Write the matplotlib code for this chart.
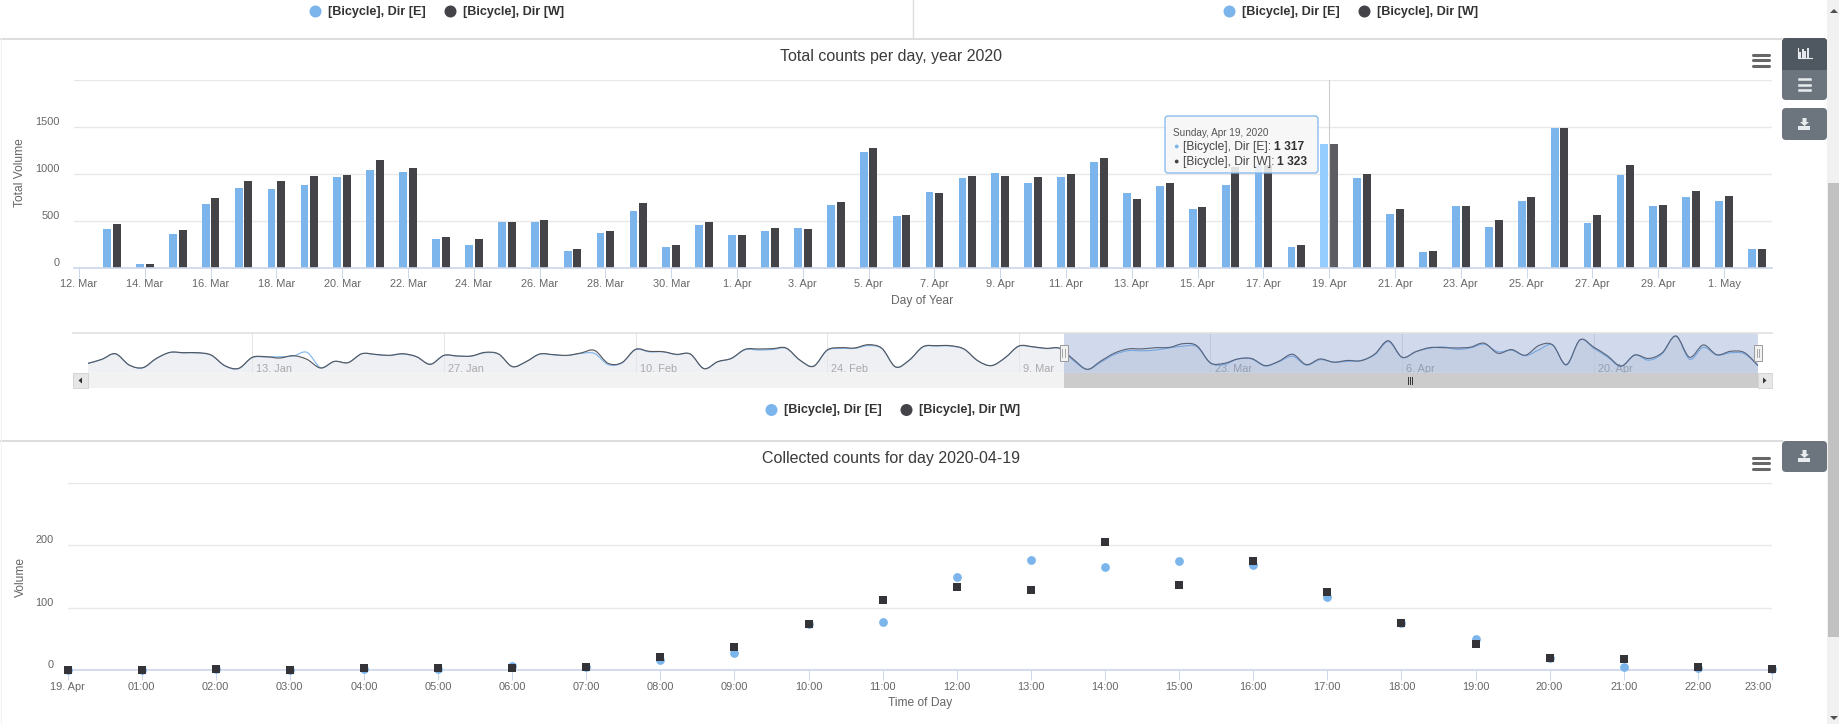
import numpy as np
import matplotlib
matplotlib.use('Agg')
import matplotlib.pyplot as plt
from matplotlib.path import Path
from matplotlib.patches import PathPatch, Rectangle, FancyBboxPatch, Circle, Polygon

plt.rcParams['font.family'] = ['Liberation Sans', 'DejaVu Sans']

# daily totals, 13 Mar - 2 May
days = list(range(1, 52))
east = [418, 39, 357, 686, 854, 846, 879, 971, 1046, 1025, 311, 250, 493, 493, 186, 375, 611,
        225, 461, 354, 389, 429, 675, 1239, 557, 814, 954, 1014, 907, 971, 1132, 804, 868, 632,
        889, 1100, 225, 1317, 954, 579, 175, 664, 439, 718, 1486, 482, 993, 664, 761, 718, 207]
west = [471, 46, 407, 750, 929, 929, 982, 993, 1154, 1068, 325, 304, 493, 514, 207, 396, 696,
        250, 493, 354, 429, 418, 704, 1282, 568, 804, 982, 982, 971, 1004, 1175, 739, 900, 654,
        1079, 1100, 250, 1323, 1004, 632, 186, 664, 514, 761, 1486, 568, 1100, 675, 825, 771, 207]
day_ticks = list(range(0, 51, 2))
day_labels = ['12. Mar', '14. Mar', '16. Mar', '18. Mar', '20. Mar', '22. Mar', '24. Mar', '26. Mar',
              '28. Mar', '30. Mar', '1. Apr', '3. Apr', '5. Apr', '7. Apr', '9. Apr', '11. Apr',
              '13. Apr', '15. Apr', '17. Apr', '19. Apr', '21. Apr', '23. Apr', '25. Apr', '27. Apr',
              '29. Apr', '1. May']

# navigator, 1 Jan - 12 Mar (the rest comes from east/west above)
nav_west = [304, 475, 720, 232, 117, 519, 780, 765, 765, 664, 203, 88, 563, 592, 534, 635, 476, 102,
            390, 333, 720, 693, 650, 720, 592, 260, 650, 621, 621, 780, 708, 160, 376, 708, 680, 650,
            750, 865, 304, 333, 910, 823, 808, 693, 708, 73, 376, 520, 910, 924, 938, 967, 448, 174,
            880, 981, 967, 1110, 952, 145, 445, 1024, 1067, 1067, 924, 419, 203, 549, 1053, 1024,
            952, 952]
nav_east = [300, 470, 715, 240, 105, 510, 775, 750, 750, 650, 190, 70, 550, 575, 590, 620, 780, 115,
            385, 340, 715, 680, 640, 705, 585, 270, 640, 615, 615, 760, 700, 170, 370, 700, 670, 640,
            730, 730, 250, 320, 890, 800, 800, 680, 700, 85, 370, 510, 890, 880, 900, 950, 440, 185,
            860, 950, 950, 1070, 940, 150, 440, 1010, 1050, 1050, 910, 410, 210, 540, 1040, 1010,
            940, 940]
nav_ticks = [12, 26, 40, 54, 68, 82, 96, 110]
nav_labels = ['13. Jan', '27. Jan', '10. Feb', '24. Feb', '9. Mar', '23. Mar', '6. Apr', '20. Apr']

# counts per hour for 2020-04-19
hours = list(range(24))
hour_east = [1, 1, 2, 1, 2, 2, 7, 6, 16, 28, 74, 78, 149, 177, 166, 175, 169, 117, 76, 50, 20, 5, 3, 2]
hour_west = [1, 1, 2, 1, 3, 3, 3, 6, 21, 37, 74, 113, 133, 129, 206, 136, 175, 125, 75, 42, 19, 18, 5, 2]
hour_labels = ['19. Apr', '01:00', '02:00', '03:00', '04:00', '05:00', '06:00', '07:00', '08:00', '09:00',
               '10:00', '11:00', '12:00', '13:00', '14:00', '15:00', '16:00', '17:00', '18:00', '19:00',
               '20:00', '21:00', '22:00', '23:00']

BLUE = '#7cb5ec'
DARK = '#434348'
W, H = 1839, 724
PT = 0.72  # px to pt at dpi 100

fig = plt.figure(figsize=(W / 100, H / 100), dpi=100, facecolor='white')


def px_axes(x0, y0, x1, y1, **kw):
    return fig.add_axes([x0 / W, 1 - y1 / H, (x1 - x0) / W, (y1 - y0) / H], **kw)


def style_axes(ax):
    for s in ['top', 'left', 'right']:
        ax.spines[s].set_visible(False)
    ax.spines['bottom'].set_color('#ccd6eb')
    ax.spines['bottom'].set_linewidth(1.2)
    ax.set_axisbelow(True)
    ax.grid(axis='y', color='#e8e8e8', linewidth=1.0)
    ax.tick_params(axis='x', length=10 * PT, width=0.7, color='#ccd6eb', labelsize=11 * PT,
                   labelcolor='#666666', pad=1)
    ax.tick_params(axis='y', length=0, labelsize=11 * PT, labelcolor='#666666', pad=14 * PT)
    for t in ax.get_yticklabels():
        t.set_va('bottom')


# ---- total counts per day
ax = px_axes(74, 80.2, 1772, 268)
ax.set_xlim((74 - 79) / 32.9, (1772 - 79) / 32.9)
ax.set_ylim(0, 2000)
ax.set_yticks([0, 500, 1000, 1500, 2000])
ax.set_yticklabels(['0', '500', '1000', '1500', ''])
ax.set_xticks(day_ticks)
ax.set_xticklabels(day_labels)
style_axes(ax)

col_e = [BLUE] * len(days)
col_w = [DARK] * len(days)
col_e[37] = '#95cefe'   # hovered day, 19 Apr
col_w[37] = '#5c5c61'
ax.bar(np.array(days) - 0.147, east, width=0.235, color=col_e)
ax.bar(np.array(days) + 0.147, west, width=0.245, color=col_w)
ax.axvline(38, color='#cccccc', linewidth=0.8, zorder=1)

# ---- navigator
nav = px_axes(88, 333, 1758, 372.7)
nav.set_xlim(0, 122)
nav.set_ylim(-101, 1616)
nav.axis('off')


def spline_path(xs, ys, close_at=None):
    # smooth line through the daily points
    xs = np.asarray(xs, float)
    ys = np.asarray(ys, float)
    verts = [(xs[0], ys[0])]
    codes = [Path.MOVETO]
    n = len(xs)
    for i in range(n - 1):
        a = max(i - 1, 0)
        b = min(i + 2, n - 1)
        verts.append((xs[i] + (xs[i + 1] - xs[a]) / 6, ys[i] + (ys[i + 1] - ys[a]) / 6))
        verts.append((xs[i + 1] - (xs[b] - xs[i]) / 6, ys[i + 1] - (ys[b] - ys[i]) / 6))
        verts.append((xs[i + 1], ys[i + 1]))
        codes += [Path.CURVE4] * 3
    if close_at is not None:
        verts += [(xs[-1], close_at), (xs[0], close_at), (xs[0], ys[0])]
        codes += [Path.LINETO, Path.LINETO, Path.CLOSEPOLY]
    return Path(verts, codes)


nav_x = list(range(123))
full_east = nav_east + east
full_west = nav_west + west
nav.add_patch(PathPatch(spline_path(nav_x, full_west, -101), facecolor='#eff0f4', edgecolor='none', zorder=1))
for t, lab in zip(nav_ticks, nav_labels):
    nav.axvline(t, color='#e6e6e6', linewidth=0.7, zorder=2)
    nav.text(t + 0.3, 80, lab, color='#aaaaaa', fontsize=11 * PT, va='center', ha='left', zorder=2)
nav.add_patch(PathPatch(spline_path(nav_x, full_east), facecolor='none', edgecolor=BLUE, linewidth=0.8, zorder=3))
nav.add_patch(PathPatch(spline_path(nav_x, full_west), facecolor='none', edgecolor='#55555a', linewidth=0.8, zorder=4))
nav.axvspan(71.3, 122, color='#6685c2', alpha=0.3, linewidth=0, zorder=5)

# ---- counts for the day
ax2 = px_axes(67.5, 483, 1772, 670.3)
ax2.set_xlim(0, 23)
ax2.set_ylim(0, 300)
ax2.set_yticks([0, 100, 200, 300])
ax2.set_yticklabels(['0', '100', '200', ''])
ax2.set_xticks(hours)
ax2.set_xticklabels(hour_labels)
style_axes(ax2)
ax2.get_xticklabels()[-1].set_ha('right')
ax2.scatter(hours, hour_east, s=40, marker='o', color=BLUE, clip_on=False, zorder=3, linewidths=0)
ax2.scatter(hours, hour_west, s=38, marker='s', color='#333338', clip_on=False, zorder=4, linewidths=0)

# ---- everything around the charts, in page pixels
ov = fig.add_axes([0, 0, 1, 1], facecolor='none')
ov.set_xlim(0, W)
ov.set_ylim(H, 0)
ov.axis('off')

ov.plot([0, 1782], [38.5, 38.5], color='#dddddd', linewidth=1.4)
ov.plot([0, 1782], [441, 441], color='#dddddd', linewidth=1.4)
ov.plot([913.5, 913.5], [0, 38], color='#dddddd', linewidth=1)
ov.plot([0.5, 0.5], [38, 724], color='#f2f2f2', linewidth=0.8)


def legend_entry(x, y, color, label):
    ov.add_patch(Circle((x, y), 6, color=color, linewidth=0))
    ov.text(x + 13, y + 0.5, label, fontsize=12.6 * PT, fontweight='bold', color='#333333', va='center')


legend_entry(315.5, 11.5, BLUE, '[Bicycle], Dir [E]')
legend_entry(450.5, 11.5, DARK, '[Bicycle], Dir [W]')
legend_entry(1229.5, 11.5, BLUE, '[Bicycle], Dir [E]')
legend_entry(1364.5, 11.5, DARK, '[Bicycle], Dir [W]')
legend_entry(771.5, 410, BLUE, '[Bicycle], Dir [E]')
legend_entry(906.5, 410, DARK, '[Bicycle], Dir [W]')

ov.text(891.5, 56.5, 'Total counts per day, year 2020', fontsize=16 * PT, color='#3a3a3a', ha='center', va='center')
ov.text(891.5, 458, 'Collected counts for day 2020-04-19', fontsize=16 * PT, color='#3a3a3a', ha='center', va='center')
ov.text(922, 301, 'Day of Year', fontsize=12 * PT, color='#666666', ha='center', va='center')
ov.text(920, 703, 'Time of Day', fontsize=12 * PT, color='#666666', ha='center', va='center')
ov.text(20.5, 173, 'Total Volume', fontsize=12 * PT, color='#666666', ha='center', va='center', rotation=90)
ov.text(20.5, 577, 'Volume', fontsize=12 * PT, color='#666666', ha='center', va='center', rotation=90)

# hamburger menus
for cy in [60, 463]:
    for dy in [-5.5, 0, 5.5]:
        ov.plot([1753, 1769], [cy + dy, cy + dy], color='#666666', linewidth=2.2, solid_capstyle='round')

# navigator frame and scrollbar
ov.plot([73, 1772], [333, 333], color='#e0e0e0', linewidth=1.2)
ov.add_patch(Rectangle((73, 373), 1699, 15, color='#f2f2f2', linewidth=0))
ov.add_patch(Rectangle((1063.6, 373), 694.4, 15, color='#cccccc', linewidth=0))
ov.add_patch(Rectangle((73, 373), 15, 15, facecolor='#e6e6e6', edgecolor='#cccccc', linewidth=0.5))
ov.add_patch(Rectangle((1758, 373), 14, 15, facecolor='#e6e6e6', edgecolor='#cccccc', linewidth=0.5))
ov.add_patch(Polygon([[82, 377.5], [82, 383.5], [78.5, 380.5]], color='#333333', linewidth=0))
ov.add_patch(Polygon([[1763, 377.5], [1763, 383.5], [1766.5, 380.5]], color='#333333', linewidth=0))
for dx in [-2, 0, 2]:
    ov.plot([1410 + dx, 1410 + dx], [377, 384], color='#333333', linewidth=0.7)
for hx in [1063.6, 1758]:
    ov.add_patch(Rectangle((hx - 4, 345), 8, 15.5, facecolor='#f2f2f2', edgecolor='#999999', linewidth=0.7, zorder=6))
    for dx in [-1.2, 1.2]:
        ov.plot([hx + dx, hx + dx], [349, 357], color='#999999', linewidth=0.6, zorder=7)

# tooltip
ov.add_patch(FancyBboxPatch((1167, 118), 149, 53, boxstyle='round,pad=2,rounding_size=3', facecolor='#f7f7f7',
                            edgecolor=BLUE, linewidth=1, alpha=0.88, zorder=8))
ov.text(1172.7, 132.5, 'Sunday, Apr 19, 2020', fontsize=10 * PT, color='#555555', va='center', zorder=9)
ov.add_patch(Circle((1176.7, 146.5), 1.9, color=BLUE, linewidth=0, zorder=9))
ov.add_patch(Circle((1176.7, 161.5), 1.9, color=DARK, linewidth=0, zorder=9))
ov.text(1183, 147, '[Bicycle], Dir [E]:', fontsize=12 * PT, color='#444444', va='center', zorder=9)
ov.text(1183, 162, '[Bicycle], Dir [W]:', fontsize=12 * PT, color='#444444', va='center', zorder=9)
ov.text(1274, 147, '1 317', fontsize=12 * PT, fontweight='bold', color='#333333', va='center', zorder=9)
ov.text(1277.5, 162, '1 323', fontsize=12 * PT, fontweight='bold', color='#333333', va='center', zorder=9)

# side buttons
def button(y0, y1, color):
    ov.add_patch(FancyBboxPatch((1784, y0 + 2), 41, y1 - y0 - 4, boxstyle='round,pad=2,rounding_size=4',
                                facecolor=color, edgecolor='none'))


button(38, 100, '#6c757d')
button(38, 70, '#4f5760')
ov.add_patch(Rectangle((1782, 60), 45, 10, color='#4f5760', linewidth=0))
button(108, 140, '#6c757d')
button(441, 472, '#6c757d')

ICON = '#e9ecef'
ov.plot([1798, 1798, 1812], [48, 58, 58], color=ICON, linewidth=0.8)
for bx, top in zip([1800.5, 1803, 1805.5, 1808], [53, 50, 52, 49]):
    ov.plot([bx, bx], [57, top], color=ICON, linewidth=1.4)
for dy in [79, 84.5, 90]:
    ov.plot([1799, 1810], [dy, dy], color=ICON, linewidth=1.8)
for cy in [124, 456]:
    ov.add_patch(Polygon([[1802.5, cy - 6], [1806.5, cy - 6], [1806.5, cy - 2], [1809, cy - 2], [1804.5, cy + 2],
                          [1800, cy - 2], [1802.5, cy - 2]], color=ICON, linewidth=0))
    ov.add_patch(Rectangle((1798.5, cy + 1.5), 12, 4.5, color=ICON, linewidth=0))

# page scrollbar
ov.add_patch(Rectangle((1827, 0), 12, H, color='#f1f1f1', linewidth=0))
ov.add_patch(Rectangle((1828.5, 183), 10.5, 454, color='#c1c1c1', linewidth=0))
ov.add_patch(Polygon([[1830, 13], [1838, 13], [1834, 9]], color='#505050', linewidth=0))
ov.add_patch(Polygon([[1830, 716], [1838, 716], [1834, 720]], color='#505050', linewidth=0))

fig.savefig('out.png', dpi=100)
